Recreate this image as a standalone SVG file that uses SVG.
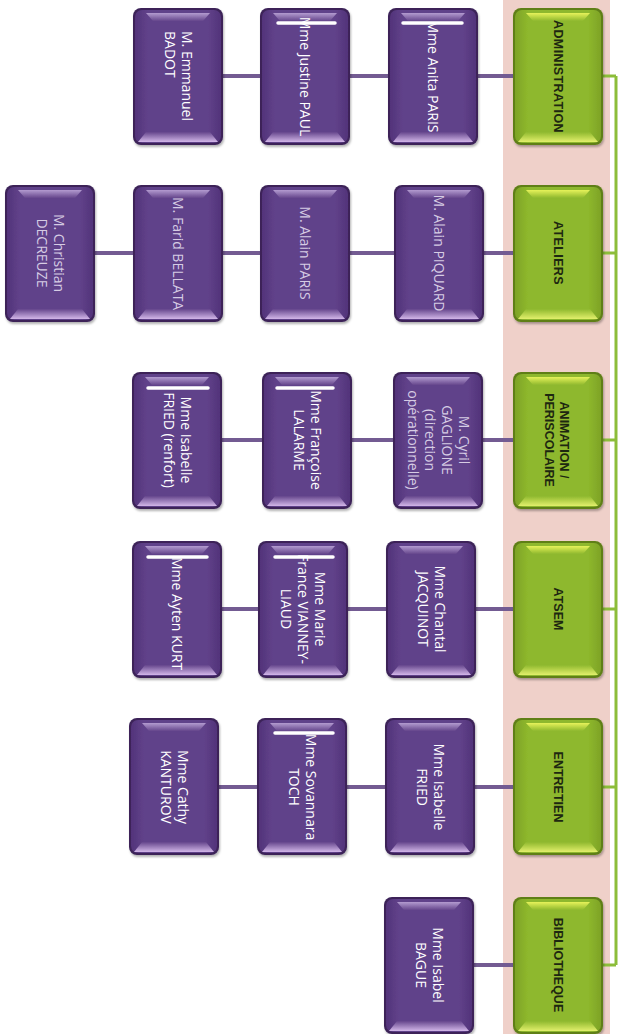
<svg xmlns="http://www.w3.org/2000/svg" width="620" height="1034" viewBox="0 0 620 1034">
<style>
.pt{font-family:"Open Sans","Noto Sans",sans-serif;font-size:14px;fill:#fff;text-anchor:middle}
.f{fill:#d6cce4}
.st{text-anchor:start}
.gt{font-family:"Liberation Sans",Arial,sans-serif;font-size:12.5px;font-weight:bold;fill:#1d2710;text-anchor:middle}
.pl{stroke:#735b92;stroke-width:4;fill:none}
.gl{stroke:#8cbd3a;stroke-width:3;fill:none}
.box{filter:url(#sh)}
.smear{stroke:#fff;stroke-width:3.5;fill:none;stroke-linecap:round}
</style>
<defs>
<filter id="sh" x="-10%" y="-10%" width="130%" height="130%">
<feDropShadow dx="1" dy="2" stdDeviation="1.3" flood-color="#000" flood-opacity="0.3"/>
</filter>
<linearGradient id="pbody" x1="0" y1="0" x2="1" y2="0">
<stop offset="0" stop-color="#52337a"/><stop offset="0.15" stop-color="#61428a"/><stop offset="0.85" stop-color="#61428a"/><stop offset="1" stop-color="#52337a"/>
</linearGradient>
<linearGradient id="pTop" x1="0" y1="0" x2="0" y2="1">
<stop offset="0" stop-color="#b39bd0"/><stop offset="1" stop-color="#65468c"/>
</linearGradient>
<linearGradient id="pBot" x1="0" y1="0" x2="0" y2="1">
<stop offset="0" stop-color="#65468c"/><stop offset="1" stop-color="#d2b6e8"/>
</linearGradient>
<linearGradient id="gbody" x1="0" y1="0" x2="1" y2="0">
<stop offset="0" stop-color="#7ea326"/><stop offset="0.15" stop-color="#8eb82d"/><stop offset="0.85" stop-color="#8eb82d"/><stop offset="1" stop-color="#7ea326"/>
</linearGradient>
<linearGradient id="gTop" x1="0" y1="0" x2="0" y2="1">
<stop offset="0" stop-color="#e6f25a"/><stop offset="1" stop-color="#8eb82d"/>
</linearGradient>
<linearGradient id="gBot" x1="0" y1="0" x2="0" y2="1">
<stop offset="0" stop-color="#8eb82d"/><stop offset="1" stop-color="#e2ef6c"/>
</linearGradient>
<g id="pb">
<rect width="90" height="137" rx="8" fill="#3c2459"/>
<rect x="2" y="2" width="86" height="133" rx="7" fill="url(#pbody)"/>
<path d="M13 5 H77 L70 13 H20 Z" fill="url(#pTop)"/>
<path d="M5 134 H85 L77 124 H13 Z" fill="url(#pBot)"/>
</g>
<g id="gb">
<rect width="90" height="137" rx="8" fill="#5f7f19"/>
<rect x="2" y="2" width="86" height="133" rx="7" fill="url(#gbody)"/>
<path d="M13 5 H77 L70 13 H20 Z" fill="url(#gTop)"/>
<path d="M5 134 H85 L77 124 H13 Z" fill="url(#gBot)"/>
</g>
</defs>

<rect x="503" y="0" width="107" height="1034" fill="#efd0c9"/>

<g id="connectors">
<path class="gl" d="M616 76 V965 M603 76 H616 M603 253 H616 M603 440 H616 M603 609 H616 M603 787 H616 M603 965 H616"/>
<path class="pl" d="M223 76 H260 M350 76 H388 M478 76 H513"/>
<path class="pl" d="M95 253 H133 M223 253 H260 M350 253 H394 M484 253 H513"/>
<path class="pl" d="M222 440 H262 M352 440 H393 M483 440 H513"/>
<path class="pl" d="M222 609 H258 M348 609 H386 M476 609 H513"/>
<path class="pl" d="M219 787 H257 M347 787 H385 M475 787 H513"/>
<path class="pl" d="M474 965 H513"/>
</g>

<g id="n-administration"><use href="#gb" x="513" y="8" class="box"/>
<text class="gt" transform="translate(558 76.5) rotate(90)" y="4.5" letter-spacing="0.4">ADMINISTRATION</text></g>
<g id="n-ateliers"><use href="#gb" x="513" y="185" class="box"/>
<text class="gt" transform="translate(558 253) rotate(90)" y="4.5" letter-spacing="0.4">ATELIERS</text></g>
<g id="n-animation"><use href="#gb" x="513" y="372" class="box"/>
<text class="gt" transform="translate(558 440) rotate(90)"><tspan x="0" y="-2">ANIMATION /</tspan><tspan x="0" y="13">PERISCOLAIRE</tspan></text></g>
<g id="n-atsem"><use href="#gb" x="513" y="541" class="box"/>
<text class="gt" transform="translate(558 609) rotate(90)" y="4.5">ATSEM</text></g>
<g id="n-entretien"><use href="#gb" x="513" y="718" class="box"/>
<text class="gt" transform="translate(558 787) rotate(90)" y="4.5">ENTRETIEN</text></g>
<g id="n-bibliotheque"><use href="#gb" x="513" y="897" class="box"/>
<text class="gt" transform="translate(558 965) rotate(90)" y="4.5">BIBLIOTHEQUE</text></g>

<g id="n-anita"><use href="#pb" x="388" y="8" class="box"/>
<text class="pt" transform="translate(433 76.5) rotate(90)" y="5">Mme Anita PARIS</text></g>
<g id="n-justine"><use href="#pb" x="260" y="8" class="box"/>
<text class="pt" transform="translate(305 76.5) rotate(90)" y="5">Mme Justine PAUL</text></g>
<g id="n-emmanuel"><use href="#pb" x="133" y="8" class="box"/>
<text class="pt st" transform="translate(178 76.5) rotate(90)"><tspan x="-45.5" y="-3.5">M. Emmanuel</tspan><tspan x="-45.5" y="13.5">BADOT</tspan></text></g>

<g id="n-piquard"><use href="#pb" x="394" y="185" class="box"/>
<text class="pt f" transform="translate(439 253) rotate(90)" y="5">M. Alain PIQUARD</text></g>
<g id="n-alainparis"><use href="#pb" x="260" y="185" class="box"/>
<text class="pt f" transform="translate(305 253) rotate(90)" y="5">M. Alain PARIS</text></g>
<g id="n-farid"><use href="#pb" x="133" y="185" class="box"/>
<text class="pt f st" transform="translate(178 253) rotate(90)" x="-56" y="5">M. Farid BELLATA</text></g>
<g id="n-christian"><use href="#pb" x="5" y="185" class="box"/>
<text class="pt f" transform="translate(50 253) rotate(90)"><tspan x="0" y="-3.5">M. Christian</tspan><tspan x="0" y="13.5">DECREUZE</tspan></text></g>

<g id="n-cyril"><use href="#pb" x="393" y="372" class="box"/>
<text class="pt f" transform="translate(438 440) rotate(90)"><tspan x="0" y="-20.5">M. Cyril</tspan><tspan x="0" y="-3.5">GAGLIONE</tspan><tspan x="0" y="13.5">(direction</tspan><tspan x="0" y="30.5">opérationnelle)</tspan></text></g>
<g id="n-francoise"><use href="#pb" x="262" y="372" class="box"/>
<text class="pt" transform="translate(307 440) rotate(90)"><tspan x="0" y="-3.5">Mme Françoise</tspan><tspan x="0" y="13.5">LALARME</tspan></text></g>
<g id="n-isabelle-renfort"><use href="#pb" x="132" y="372" class="box"/>
<text class="pt" transform="translate(177 440) rotate(90)"><tspan x="0" y="-3.5">Mme Isabelle</tspan><tspan x="0" y="13.5">FRIED (renfort)</tspan></text></g>

<g id="n-chantal"><use href="#pb" x="386" y="541" class="box"/>
<text class="pt" transform="translate(431 609) rotate(90)"><tspan x="0" y="-3.5">Mme Chantal</tspan><tspan x="0" y="13.5">JACQUINOT</tspan></text></g>
<g id="n-marie"><use href="#pb" x="258" y="541" class="box"/>
<text class="pt" transform="translate(303 609) rotate(90)"><tspan x="0" y="-12">Mme Marie</tspan><tspan x="0" y="5">France VIANNEY-</tspan><tspan x="0" y="22">LIAUD</tspan></text></g>
<g id="n-ayten"><use href="#pb" x="132" y="541" class="box"/>
<text class="pt st" transform="translate(177 609) rotate(90)" x="-52" y="5">Mme Ayten KURT</text></g>

<g id="n-isabelle-fried"><use href="#pb" x="385" y="718" class="box"/>
<text class="pt" transform="translate(430 787) rotate(90)"><tspan x="0" y="-3.5">Mme Isabelle</tspan><tspan x="0" y="13.5">FRIED</tspan></text></g>
<g id="n-sovannara"><use href="#pb" x="257" y="718" class="box"/>
<text class="pt" transform="translate(302 787) rotate(90)"><tspan x="0" y="-3.5">Mme Sovannara</tspan><tspan x="0" y="13.5">TOCH</tspan></text></g>
<g id="n-cathy"><use href="#pb" x="129" y="718" class="box"/>
<text class="pt" transform="translate(174 787) rotate(90)"><tspan x="0" y="-3.5">Mme Cathy</tspan><tspan x="0" y="13.5">KANTUROV</tspan></text></g>

<g id="n-isabel"><use href="#pb" x="384" y="897" class="box"/>
<text class="pt" transform="translate(429 965) rotate(90)"><tspan x="0" y="-3.5">Mme Isabel</tspan><tspan x="0" y="13.5">BAGUE</tspan></text></g>

<g id="marks">
<path class="smear" d="M403 23 H462"/>
<path class="smear" d="M278 23 H335"/>
<path class="smear" d="M277 388 H333"/>
<path class="smear" d="M148 388 H208"/>
<path class="smear" d="M275 557 H333"/>
<path class="smear" d="M148 557 H207"/>
<path class="smear" d="M275 733 H333"/>
</g>
</svg>
